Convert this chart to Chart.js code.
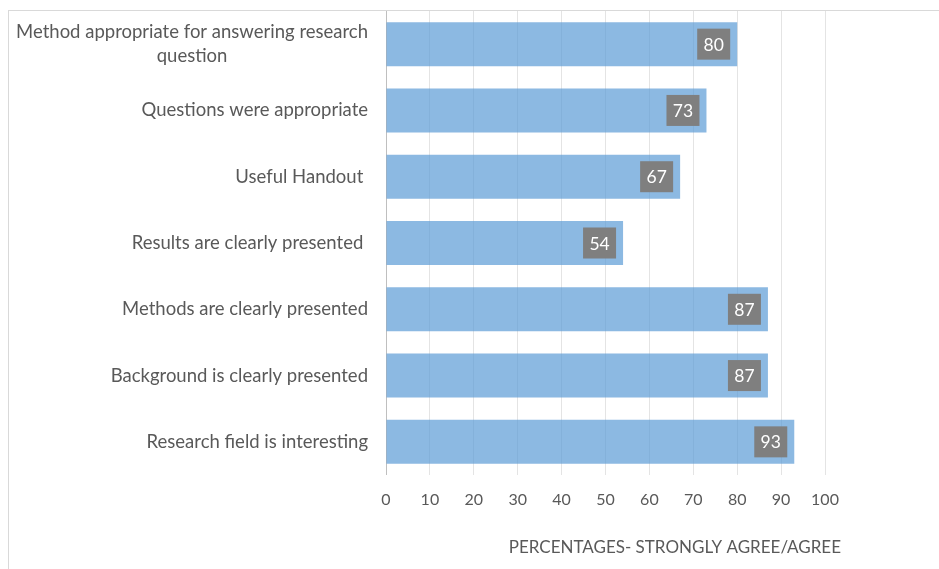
<!DOCTYPE html>
<html>
<head>
<meta charset="utf-8">
<script src="https://cdn.jsdelivr.net/npm/chart.js@4"></script>
<style>
  html, body { margin: 0; padding: 0; background: #fff; }
  #wrap { position: relative; width: 939px; height: 569px; }
  #frame { position: absolute; left: 8px; top: 10px; right: 0; bottom: 0;
           border-top: 1px solid #d9d9d9; border-left: 1px solid #d9d9d9; }
  canvas { position: absolute; left: 0; top: 0; }
</style>
</head>
<body>
<div id="wrap">
  <div id="frame"></div>
  <canvas id="chart" width="939" height="569"></canvas>
</div>
<script>
const categories = [
  ["Method appropriate for answering research", "question"],
  "Questions were appropriate",
  "Useful Handout ",
  "Results are clearly presented ",
  "Methods are clearly presented",
  "Background is clearly presented",
  "Research field is interesting"
];
const values = [80, 73, 67, 54, 87, 87, 93];
const xTicks = [0, 10, 20, 30, 40, 50, 60, 70, 80, 90, 100];
const axisTitle = "PERCENTAGES- STRONGLY AGREE/AGREE";

const FONT = "Lato, 'Open Sans', sans-serif";
const TEXT = "#595959";

// category labels, value boxes and axis title drawn by hand
const labelPlugin = {
  id: "handLabels",
  afterDatasetsDraw(chart) {
    const ctx = chart.ctx;
    const area = chart.chartArea;
    const yScale = chart.scales.y;
    ctx.save();
    ctx.textBaseline = "middle";

    ctx.font = "18.5px " + FONT;
    ctx.fillStyle = TEXT;
    ctx.textAlign = "center";
    categories.forEach((lab, i) => {
      const lines = Array.isArray(lab) ? lab : [lab];
      const w = Math.max(...lines.map(l => ctx.measureText(l).width));
      const cx = area.left - 18 - w / 2;
      const yc = yScale.getPixelForValue(i);
      lines.forEach((l, k) => {
        ctx.fillText(l, cx, yc + (k - (lines.length - 1) / 2) * 24);
      });
    });

    ctx.font = "17.5px " + FONT;
    chart.getDatasetMeta(0).data.forEach((bar, i) => {
      const right = bar.x - 7;
      ctx.fillStyle = "#7f7f7f";
      ctx.fillRect(right - 33, bar.y - 15.5, 33, 31);
      ctx.fillStyle = "#ffffff";
      ctx.fillText(String(values[i]), right - 16.5, bar.y + 1);
    });

    ctx.font = "17px " + FONT;
    ctx.fillStyle = TEXT;
    ctx.textAlign = "right";
    ctx.fillText(axisTitle, area.right + 16, chart.height - 21);
    ctx.restore();
  }
};

new Chart(document.getElementById("chart"), {
  type: "bar",
  data: {
    labels: categories,
    datasets: [{
      data: values,
      backgroundColor: "rgba(91,155,213,0.7)",
      borderWidth: 0,
      barPercentage: 0.664,
      categoryPercentage: 1
    }]
  },
  options: {
    indexAxis: "y",
    responsive: false,
    animation: false,
    layout: { padding: { left: 386, right: 114, top: 11, bottom: 0 } },
    plugins: { legend: { display: false }, tooltip: { enabled: false } },
    scales: {
      y: { display: false },
      x: {
        min: 0,
        max: 100,
        afterBuildTicks: s => { s.ticks = xTicks.map(v => ({ value: v })); },
        afterFit: s => { s.height = 94; },
        border: { display: false },
        grid: {
          drawTicks: false,
          color: c => (c.tick && c.tick.value === 0 ? "#bfbfbf" : "#e4e4e4")
        },
        ticks: { color: TEXT, padding: 15, font: { family: FONT, size: 16 } }
      }
    }
  },
  plugins: [labelPlugin]
});
</script>
</body>
</html>
